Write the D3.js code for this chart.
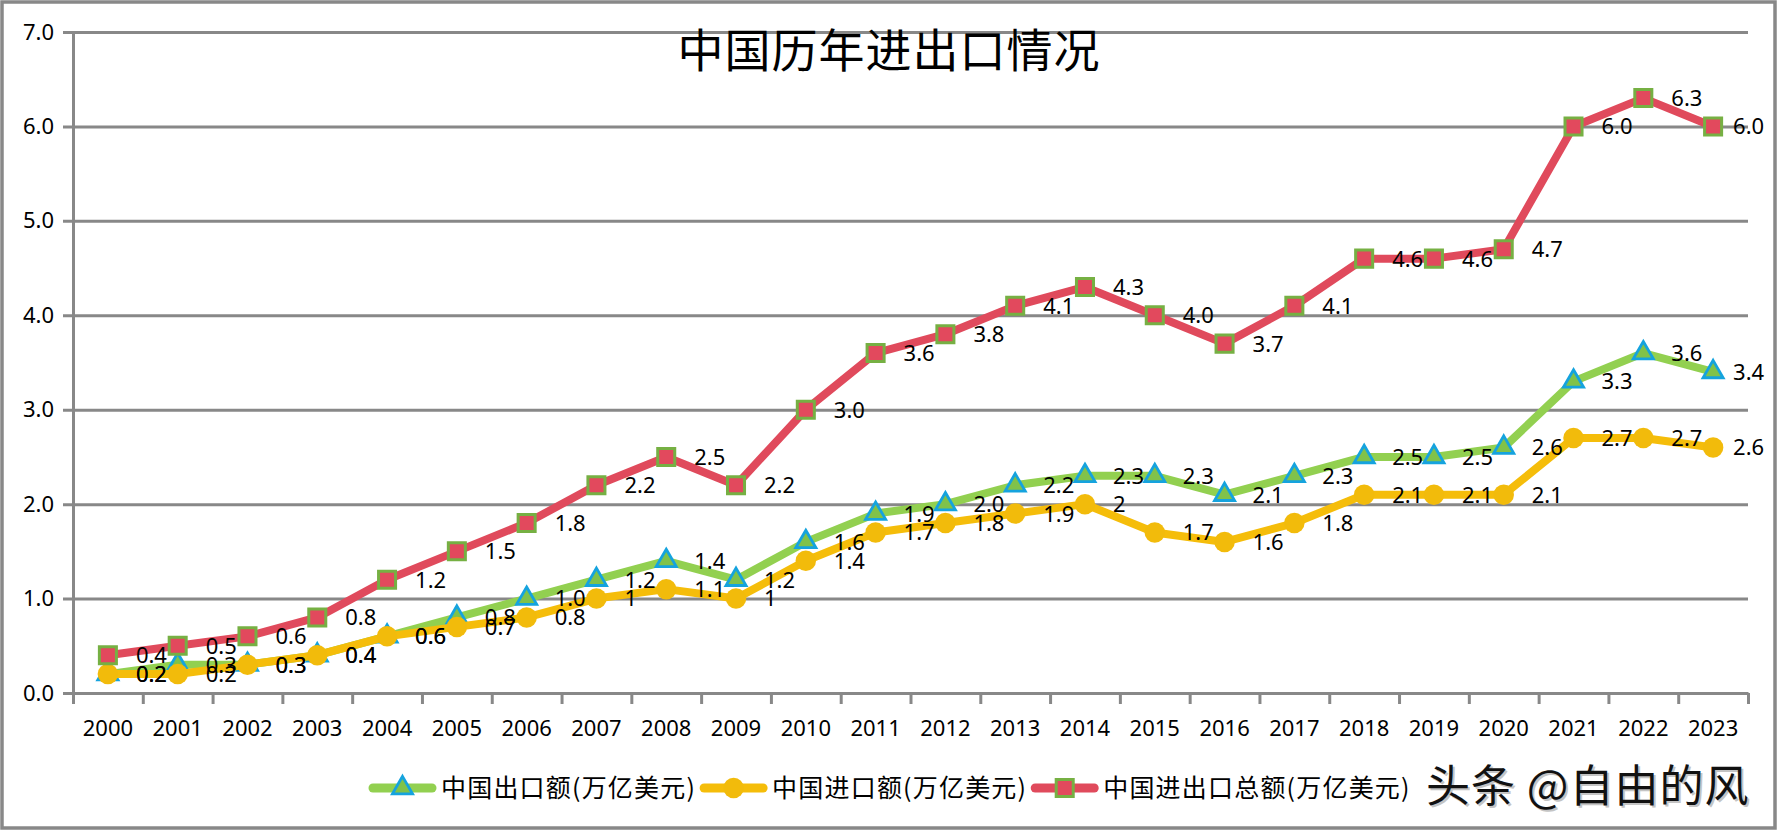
<!DOCTYPE html>
<html><head><meta charset="utf-8">
<script src="https://cdn.jsdelivr.net/npm/d3@7"></script>
<style>html,body{margin:0;padding:0;background:#fff;} svg{display:block;}</style>
</head><body>
<svg id="chart" width="1778" height="831"></svg>
<script>
// ---------- data ----------
const years = ["2000","2001","2002","2003","2004","2005","2006","2007","2008","2009","2010","2011",
               "2012","2013","2014","2015","2016","2017","2018","2019","2020","2021","2022","2023"];
const exportValues = [0.2,0.3,0.3,0.4,0.6,0.8,1.0,1.2,1.4,1.2,1.6,1.9,2.0,2.2,2.3,2.3,2.1,2.3,2.5,2.5,2.6,3.3,3.6,3.4];
const importValues = [0.2,0.2,0.3,0.4,0.6,0.7,0.8,1,1.1,1,1.4,1.7,1.8,1.9,2,1.7,1.6,1.8,2.1,2.1,2.1,2.7,2.7,2.6];
const totalValues  = [0.4,0.5,0.6,0.8,1.2,1.5,1.8,2.2,2.5,2.2,3.0,3.6,3.8,4.1,4.3,4.0,3.7,4.1,4.6,4.6,4.7,6.0,6.3,6.0];
const yTicks = [0,1,2,3,4,5,6,7];
const seriesNames = ["中国出口额(万亿美元)","中国进口额(万亿美元)","中国进出口总额(万亿美元)"];
const titleText = "中国历年进出口情况";
const watermarkText = "头条 @自由的风";

// ---------- layout / style ----------
const W = 1778, H = 831;
const plot = {left: 73, right: 1748, top: 32, bottom: 693};
const LATIN = "'Noto Sans','Open Sans','DejaVu Sans',sans-serif";
const CJK = "'Noto Sans CJK SC','Noto Sans',sans-serif";
const GRID = "#888888";

const series = [
  {name: seriesNames[0], values: exportValues, line: "#92D050", fmt: d3.format(".1f"),
   symbol: d3.symbolTriangle, size: 175, fill: "#80C24A", stroke: "#15A3DE", sw: 2.8},
  {name: seriesNames[1], values: importValues, line: "#F5BD0A", fmt: d3.format("~g"),
   symbol: d3.symbolCircle, size: 330, fill: "#F2BB0B", stroke: "#F2BB0B", sw: 0},
  {name: seriesNames[2], values: totalValues, line: "#E04A5C", fmt: d3.format(".1f"),
   symbol: d3.symbolSquare, size: 290, fill: "#E2495D", stroke: "#76B043", sw: 3}
];

const svg = d3.select("#chart");
svg.append("rect").attr("width", W).attr("height", H).attr("fill", "#fff");

const x = d3.scaleBand().domain(years).range([plot.left, plot.right]).padding(0);
const xEdge = d3.scaleLinear().domain([0, years.length]).range([plot.left, plot.right]);
const y = d3.scaleLinear().domain([0, 7]).range([plot.bottom, plot.top]);
const cx = i => x(years[i]) + x.bandwidth() / 2;

// gridlines + y labels
const gridG = svg.append("g").attr("transform", `translate(${plot.right},0)`)
  .call(d3.axisLeft(y).tickValues(yTicks).tickSize(plot.right - plot.left + 10)
        .tickPadding(9).tickFormat(d3.format(".1f")));
gridG.select(".domain").remove();
gridG.selectAll(".tick line").attr("stroke", GRID).attr("stroke-width", 3);
gridG.selectAll(".tick text").attr("font-family", LATIN).attr("font-size", 22).attr("fill", "#000");

// y axis line
const yAx = svg.append("g").attr("transform", `translate(${plot.left},0)`)
  .call(d3.axisLeft(y).tickValues([]).tickSizeOuter(0));
yAx.select(".domain").attr("stroke", GRID).attr("stroke-width", 3);

// x axis: tick marks at category boundaries
const xTicksG = svg.append("g").attr("transform", `translate(0,${plot.bottom})`)
  .call(d3.axisBottom(xEdge).tickValues(d3.range(years.length + 1)).tickSize(11).tickSizeOuter(0).tickFormat(""));
xTicksG.select(".domain").attr("stroke", GRID).attr("stroke-width", 3);
xTicksG.selectAll(".tick line").attr("stroke", GRID).attr("stroke-width", 3);

// x labels
const xLab = svg.append("g").attr("transform", `translate(0,${plot.bottom})`)
  .call(d3.axisBottom(x).tickSize(0).tickPadding(27));
xLab.select(".domain").remove();
xLab.selectAll(".tick text").attr("font-family", LATIN).attr("font-size", 22).attr("fill", "#000");

// title
svg.append("text").attr("x", 889).attr("y", 47).attr("text-anchor", "middle")
  .attr("dominant-baseline", "central").attr("font-family", CJK).attr("font-size", 46)
  .attr("letter-spacing", 1).attr("fill", "#000").text(titleText);

// series lines + markers
const lineGen = d3.line().x((d, i) => cx(i)).y(d => y(d)).curve(d3.curveLinear);
series.forEach(s => {
  const g = svg.append("g");
  g.append("path").datum(s.values).attr("d", lineGen).attr("fill", "none")
    .attr("stroke", s.line).attr("stroke-width", 8).attr("stroke-linejoin", "round").attr("stroke-linecap", "round");
  g.selectAll("path.m").data(s.values).join("path").attr("class", "m")
    .attr("transform", (d, i) => `translate(${cx(i)},${y(d)})`)
    .attr("d", d3.symbol().type(s.symbol).size(s.size))
    .attr("fill", s.fill).attr("stroke", s.stroke).attr("stroke-width", s.sw);
});

// data labels
series.forEach(s => {
  svg.append("g").selectAll("text").data(s.values).join("text")
    .attr("x", (d, i) => cx(i) + (i === s.values.length - 1 ? 20 : 28))
    .attr("y", d => y(d)).attr("dy", "0.36em")
    .attr("font-family", LATIN).attr("font-size", 22).attr("fill", "#000")
    .text(d => s.fmt(d));
});

// legend
const legY = 788;
let lx = 373;
series.forEach(s => {
  const g = svg.append("g");
  g.append("line").attr("x1", lx).attr("x2", lx + 59).attr("y1", legY).attr("y2", legY)
    .attr("stroke", s.line).attr("stroke-width", 9).attr("stroke-linecap", "round");
  g.append("path").attr("transform", `translate(${lx + 29.5},${legY})`)
    .attr("d", d3.symbol().type(s.symbol).size(s.size))
    .attr("fill", s.fill).attr("stroke", s.stroke).attr("stroke-width", s.sw);
  const t = g.append("text").attr("x", lx + 68).attr("y", legY).attr("dy", "0.36em")
    .attr("font-family", CJK).attr("font-size", 25).attr("letter-spacing", 1.2)
    .attr("fill", "#000").text(s.name);
  lx = lx + 68 + t.node().getComputedTextLength() + 8;
});

// watermark
svg.append("text").attr("x", 1426).attr("y", 786).attr("dy", "0.36em")
  .attr("font-family", CJK).attr("font-size", 44).attr("letter-spacing", 1).attr("fill", "#c4c4c4").text(watermarkText)
  .attr("transform", "translate(2,2)");
svg.append("text").attr("x", 1426).attr("y", 786).attr("dy", "0.36em")
  .attr("font-family", CJK).attr("font-size", 44).attr("letter-spacing", 1).attr("font-weight", 400).attr("fill", "#111").text(watermarkText);

// outer border
svg.append("rect").attr("x", 2).attr("y", 2).attr("width", 1773).attr("height", 826)
  .attr("fill", "none").attr("stroke", GRID).attr("stroke-width", 3.5);
</script>
</body></html>
